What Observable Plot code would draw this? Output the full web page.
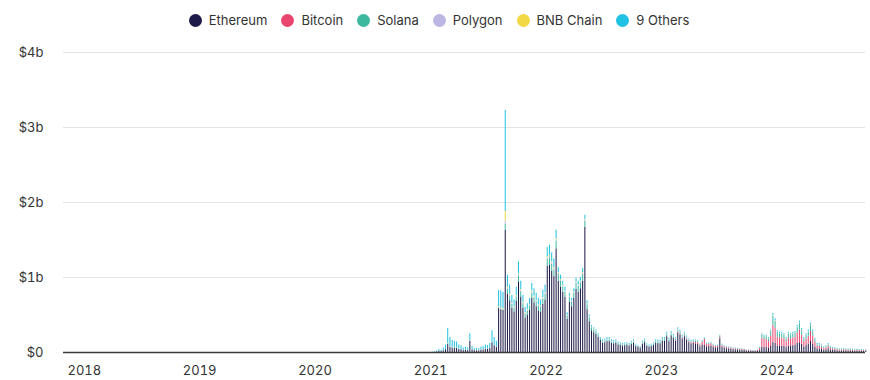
<!DOCTYPE html>
<html>
<head>
<meta charset="utf-8">
<script src="https://cdn.jsdelivr.net/npm/d3@7"></script>
<script src="https://cdn.jsdelivr.net/npm/@observablehq/plot@0.6"></script>
<style>
  html, body { margin: 0; padding: 0; background: #fff; }
  body { width: 870px; height: 380px; overflow: hidden; font-family: Inter, "Noto Sans", sans-serif; }
  #legend { height: 40px; display: flex; align-items: center; justify-content: center; padding-left: 8px; box-sizing: border-box; font-size: 13px; color: #333; }
  #legend .item { display: flex; align-items: center; margin: 0 7px; }
  #legend .dot { width: 13px; height: 13px; border-radius: 50%; margin-right: 7px; }
  svg { display: block; }
</style>
</head>
<body>
<div id="legend"></div>
<div id="chart"></div>
<script>
// Weekly NFT trading volume by chain, $ millions, weeks starting 2021-01-04
const firstWeek = "2021-01-04";
const chains = ["Ethereum", "Bitcoin", "Solana", "Polygon", "BNB Chain", "9 Others"];
const chainColors = ["#1d1a47", "#e8456f", "#3cb89f", "#bcb6e2", "#f3d846", "#22c2e5"];
const yearTicks = ["2018", "2019", "2020", "2021", "2022", "2023", "2024"];
const yTicks = [0, 1000, 2000, 3000, 4000];

const ethereum = [
  2,4,8,15,12,22,38,110,70,60, 55,55,40,38,25,30,25,150,35,25, 22,22,30,35,45,40,55,130,90,70,
  590,570,560,1630,
  780,690,590,540,680,940,740,590,460,500, 560,720,660,610,550,540,640,700,1150,1160, 1080,1010,1380,
  950,870,800,735,440,670,610,720,840,800, 850,950,1670,570,410,290,265,240,200,160,
  122,130,145,145,122,115,122,100,93,86, 90,93,86,108,122,79,68,58,108,130, 83,72,79,93,122,119,115,150,150,210, 145,222,188,
  150,260,235,175,210,165,132,115,120,115, 108,75,100,95,75,80,85,70,62,65, 180,70,57,50,47,44,37,37,33,30, 30,27,20,20,17,14,14,15,25,
  70,65,65,55,80,130,120,85,80,85, 80,65,85,80,90,95,120,130,110,70, 90,110,150,110,70,
  48,48,40,30,36,48,32,28,26,22, 20,20,22,20,18,20,18,16,18,16, 16,14,14
];
const bitcoin = [
  0,0,0,0,0,0,0,0,0,0, 0,0,0,0,0,0,0,0,0,0, 0,0,0,0,0,0,0,0,0,0,
  0,0,0,0,
  0,0,0,0,0,0,0,0,0,0, 0,0,0,0,0,0,0,0,0,0, 0,0,0,
  0,0,0,0,0,0,0,0,0,0, 0,0,0,0,0,0,0,0,0,0,
  0,0,0,0,0,0,0,0,0,0, 0,0,0,0,0,0,0,0,0,0, 0,0,0,0,0,0,0,0,0,0, 0,0,0,
  8,12,12,12,12,12,12,12,15,18, 22,18,35,80,30,30,30,22,18,18, 20,20,18,16,15,14,12,12,12,11, 11,10,8,8,7,6,6,12,30,
  120,110,105,90,140,230,200,120,115,110, 100,80,110,100,105,105,140,170,120,75, 90,105,130,105,65,
  34,34,28,21,25,34,22,20,18,15, 14,14,15,14,12,14,12,11,12,11, 11,10,10
];
const solana = [
  0,0,0,0,0,0,0,0,0,0, 0,0,0,0,0,0,0,0,0,0, 0,0,0,0,0,0,0,0,0,0,
  5,5,10,80,
  60,55,50,50,60,80,70,60,50,55, 55,70,70,65,65,60,70,75,90,100, 95,90,100,
  90,80,75,70,45,65,60,70,80,80, 80,90,80,65,50,40,35,35,30,25,
  20,22,24,24,20,19,20,17,16,15, 15,16,15,18,20,13,11,9,18,22, 14,12,13,16,20,20,19,20,20,25, 18,25,22,
  17,25,23,19,22,19,16,15,16,15, 15,10,12,12,10,10,10,9,8,8, 15,10,8,7,7,6,6,6,5,5, 5,4,4,4,3,3,3,5,10,
  40,35,40,35,55,120,95,60,50,50, 45,35,50,45,50,55,70,85,60,35, 45,55,75,55,35,
  20,20,17,13,15,20,14,12,11,9, 8,8,9,8,8,8,8,7,8,7, 7,6,6
];
const polygon = [
  0,0,0,0,0,1,1,3,3,2, 2,2,2,2,2,2,2,4,2,2, 2,2,2,2,2,2,2,2,2,2,
  5,5,5,40,
  15,15,10,10,10,15,15,10,10,10, 10,15,10,10,10,10,10,10,20,20, 20,15,20,
  15,10,10,10,5,10,10,10,10,10, 10,15,15,10,10,5,5,5,5,5,
  7,7,8,8,7,6,7,6,5,5, 5,5,5,6,7,5,4,3,6,7, 5,4,5,5,7,7,6,8,8,10, 7,10,8,
  7,10,10,8,8,8,7,6,6,6, 5,4,4,4,3,3,3,3,2,3, 5,3,2,2,2,2,2,2,2,1, 1,1,1,1,1,0,0,1,1,
  5,5,5,5,5,8,7,5,5,5, 5,4,5,5,5,5,6,7,6,4, 5,5,6,5,4,
  4,4,3,2,3,4,2,2,2,2, 2,2,2,2,1,2,1,1,1,1, 1,1,1
];
const bnbChain = [
  0,0,0,1,1,2,3,7,5,4, 4,4,3,3,2,3,3,6,3,3, 3,3,3,3,3,3,3,3,3,3,
  10,10,10,130,
  15,15,10,10,10,15,15,10,10,10, 10,15,10,10,10,10,10,10,15,15, 15,15,15,
  10,10,10,5,5,5,5,5,10,10, 10,10,10,5,5,5,5,5,0,0,
  2,2,2,2,2,2,2,2,2,1, 1,2,1,2,2,1,1,1,2,2, 1,1,1,2,2,2,2,2,2,2, 2,2,2,
  2,3,2,2,2,2,1,1,1,1, 1,1,1,1,1,1,1,1,0,1, 1,1,0,0,0,0,0,0,0,0, 0,0,0,0,0,0,0,0,0,
  2,2,2,2,3,4,3,2,2,2, 2,2,2,2,2,2,3,3,3,2, 2,2,3,2,2,
  1,1,1,1,1,1,1,0,0,0, 0,0,0,0,0,0,0,0,0,0, 0,0,0
];
const others = [
  3,6,12,24,17,35,58,200,122,94, 89,79,55,47,31,35,30,90,40,25, 23,23,35,40,50,45,60,155,105,75,
  220,230,215,1350,
  160,125,100,90,110,160,110,90,70,75, 85,100,100,95,85,80,100,105,125,135, 120,120,115,
  65,60,55,50,35,40,35,45,50,50, 50,55,55,40,25,20,20,15,15,10,
  19,19,21,21,19,18,19,15,14,13, 14,14,13,16,19,12,11,9,16,19, 12,11,12,14,19,17,18,20,20,23, 18,21,20,
  16,20,18,14,16,14,12,11,12,10, 9,7,8,8,6,6,6,5,5,5, 9,6,5,5,4,4,3,3,3,3, 3,3,2,2,2,2,2,2,4,
  13,13,13,13,17,28,25,18,18,18, 18,14,18,18,18,18,21,25,21,14, 18,23,26,23,14,
  13,13,11,8,10,13,9,8,8,7, 6,6,7,6,6,6,6,5,6,5, 5,4,4
];

const series = [ethereum, bitcoin, solana, polygon, bnbChain, others];
const start = new Date(firstWeek + "T00:00:00Z");
const data = [];
series.forEach((vals, s) => {
  vals.forEach((v, i) => {
    const d = d3.utcDay.offset(start, 7 * i);
    data.push({date: d, end: d3.utcDay.offset(d, 7), chain: chains[s], value: v});
  });
});

// legend
const legend = document.getElementById("legend");
chains.forEach((c, i) => {
  const it = document.createElement("div");
  it.className = "item";
  const dot = document.createElement("span");
  dot.className = "dot";
  dot.style.background = chainColors[i];
  const lab = document.createElement("span");
  lab.textContent = c;
  it.appendChild(dot); it.appendChild(lab);
  legend.appendChild(it);
});

const fmt = d => d === 0 ? "$0" : `$${d / 1000}b`;
const xTickDates = yearTicks.map(y => new Date(`${y}-01-01T00:00:00Z`));

const chart = Plot.plot({
  width: 870,
  height: 340,
  marginTop: 12,
  marginBottom: 28,
  marginLeft: 63,
  marginRight: 5,
  style: {fontFamily: "Inter, 'Noto Sans', sans-serif", fontSize: "13px", color: "#333", background: "#fff"},
  x: {type: "utc", domain: [new Date("2017-10-27T00:00:00Z"), new Date("2024-10-08T00:00:00Z")]},
  y: {domain: [0, 4000]},
  color: {domain: chains, range: chainColors},
  marks: [
    Plot.gridY(yTicks.slice(1), {stroke: "#e4e4e4", strokeOpacity: 1}),
    Plot.rectY(data, {x1: "date", x2: "end", y: "value", fill: "chain", insetLeft: 0.6, insetRight: 0.6}),
    Plot.ruleY([0], {stroke: "#3a3a3a", strokeWidth: 1.6}),
    Plot.axisY(yTicks, {tickSize: 0, tickPadding: 20, tickFormat: fmt, fontSize: 13, fill: "#333", label: null}),
    Plot.axisX(xTickDates, {tickSize: 0, tickPadding: 13, tickFormat: d => d3.utcFormat("%Y")(d), fontSize: 13, fill: "#333", label: null})
  ]
});
document.getElementById("chart").appendChild(chart);
</script>
</body>
</html>
